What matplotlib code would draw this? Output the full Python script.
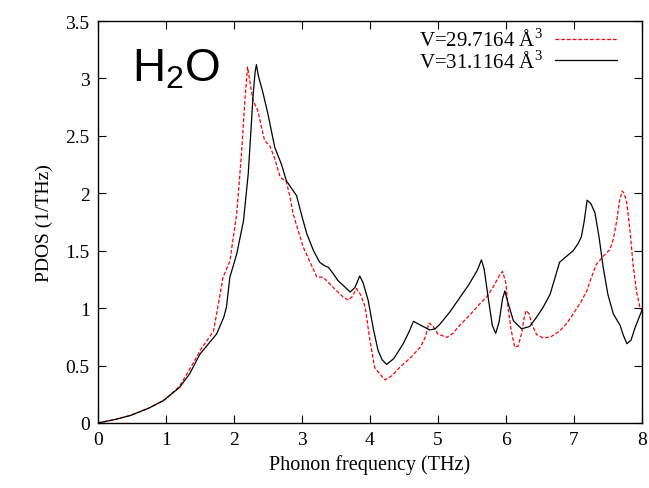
import matplotlib.pyplot as plt

plt.rcParams['font.family'] = ['Liberation Serif', 'DejaVu Serif']
plt.rcParams['mathtext.fontset'] = 'custom'
plt.rcParams['mathtext.rm'] = 'Liberation Serif'

# V = 29.7164 A^3 (red dashed)
freq_a = [0.0, 0.25, 0.5, 0.75, 1.0, 1.2, 1.4, 1.5, 1.7, 1.84, 1.94, 2.04, 2.11, 2.16, 2.20,
          2.24, 2.28, 2.35, 2.45, 2.53, 2.60, 2.68, 2.77, 2.82, 2.87, 3.02, 3.12, 3.22, 3.31,
          3.46, 3.60, 3.68, 3.74, 3.80, 3.86, 3.93, 4.0, 4.07, 4.22, 4.32, 4.44, 4.60, 4.74,
          4.81, 4.87, 4.93, 5.00, 5.13, 5.22, 5.32, 5.47, 5.62, 5.72, 5.81, 5.90, 5.95, 6.00,
          6.03, 6.08, 6.13, 6.18, 6.23, 6.27, 6.30, 6.34, 6.38, 6.45, 6.55, 6.66, 6.79, 6.90,
          6.99, 7.10, 7.19, 7.26, 7.33, 7.43, 7.53, 7.58, 7.63, 7.67, 7.71, 7.74, 7.78, 7.83,
          7.87, 7.92, 7.97, 8.0]
pdos_a = [0.0, 0.03, 0.07, 0.13, 0.21, 0.32, 0.52, 0.63, 0.80, 1.27, 1.41, 1.82, 2.34, 2.80, 3.10,
          2.95, 2.81, 2.72, 2.46, 2.41, 2.30, 2.14, 2.10, 1.98, 1.82, 1.53, 1.40, 1.27, 1.27,
          1.18, 1.10, 1.07, 1.10, 1.17, 1.12, 1.01, 0.72, 0.48, 0.375, 0.41, 0.485, 0.57, 0.66,
          0.74, 0.87, 0.84, 0.775, 0.745, 0.78, 0.85, 0.94, 1.04, 1.10, 1.18, 1.28, 1.32, 1.22,
          1.01, 0.80, 0.66, 0.67, 0.775, 0.92, 0.98, 0.95, 0.86, 0.77, 0.74, 0.75, 0.80, 0.87,
          0.95, 1.05, 1.15, 1.27, 1.38, 1.45, 1.51, 1.60, 1.76, 1.93, 2.02, 2.00, 1.91, 1.65,
          1.38, 1.15, 1.01, 0.98]

# V = 31.1164 A^3 (black solid)
freq_b = [0.0, 0.25, 0.47, 0.75, 0.96, 1.2, 1.35, 1.5, 1.745, 1.85, 1.89, 1.94, 2.04, 2.14,
          2.21, 2.25, 2.28, 2.31, 2.33, 2.36, 2.42, 2.50, 2.60, 2.70, 2.77, 2.85, 2.92, 3.00,
          3.07, 3.17, 3.26, 3.33, 3.39, 3.46, 3.53, 3.62, 3.71, 3.78, 3.85, 3.90, 3.975, 4.05,
          4.12, 4.18, 4.245, 4.35, 4.49, 4.58, 4.64, 4.75, 4.88, 4.96, 5.03, 5.18, 5.32, 5.45,
          5.52, 5.58, 5.64, 5.68, 5.74, 5.80, 5.85, 5.90, 5.95, 5.985, 6.03, 6.11, 6.23, 6.35,
          6.45, 6.55, 6.65, 6.72, 6.79, 6.85, 6.99, 7.06, 7.11, 7.15, 7.195, 7.25, 7.31, 7.37,
          7.43, 7.50, 7.58, 7.68, 7.73, 7.78, 7.84, 7.90, 8.0]
pdos_b = [0.0, 0.03, 0.064, 0.13, 0.194, 0.31, 0.43, 0.60, 0.775, 0.92, 1.01, 1.27, 1.47, 1.76,
          2.17, 2.55, 2.84, 3.05, 3.12, 3.02, 2.89, 2.69, 2.40, 2.25, 2.11, 2.04, 1.98, 1.80,
          1.65, 1.50, 1.40, 1.37, 1.355, 1.30, 1.24, 1.19, 1.14, 1.18, 1.28, 1.22, 1.065, 0.82,
          0.63, 0.55, 0.51, 0.56, 0.69, 0.80, 0.885, 0.85, 0.81, 0.82, 0.86, 0.97, 1.09, 1.20,
          1.27, 1.33, 1.42, 1.34, 1.09, 0.85, 0.78, 0.88, 1.08, 1.15, 1.05, 0.89, 0.82, 0.84,
          0.92, 1.01, 1.12, 1.26, 1.40, 1.43, 1.50, 1.56, 1.62, 1.75, 1.94, 1.91, 1.83, 1.62,
          1.36, 1.12, 0.95, 0.85, 0.76, 0.69, 0.72, 0.83, 0.98]

label_a = 'V=29.7164 Å$^3$'
label_b = 'V=31.1164 Å$^3$'

fig = plt.figure(figsize=(6.49, 4.89), dpi=100)
ax = fig.add_axes([0.151, 0.133, 0.838, 0.822])

ax.plot(freq_a, pdos_a, color='red', lw=0.9, dashes=(3, 1.6), label=label_a)
ax.plot(freq_b, pdos_b, color='black', lw=0.9, label=label_b)

ax.set_xlim(0, 8)
ax.set_ylim(0, 3.5)
ax.set_xticks(range(0, 9))
ax.set_yticks([0, 0.5, 1, 1.5, 2, 2.5, 3, 3.5])
ax.set_yticklabels(['0', '0.5', '1', '1.5', '2', '2.5', '3', '3.5'])
ax.tick_params(direction='in', top=True, right=True, length=6, width=0.8,
               labelsize=14, pad=6)
for s in ax.spines.values():
    s.set_linewidth(1.0)

ax.set_xlabel('Phonon frequency (THz)', fontsize=14.5, labelpad=4)
ax.set_ylabel('PDOS (1/THz)', fontsize=14, labelpad=9)

ax.text(0.0625, 0.851, 'H$_\\mathregular{2}$O', transform=ax.transAxes, fontsize=33,
        family='Liberation Sans', va='baseline', ha='left')

ax.legend(loc='upper right', frameon=False, markerfirst=False, fontsize=15,
          handlelength=2.95, handletextpad=0.6, labelspacing=-0.05,
          borderpad=0, borderaxespad=0, bbox_to_anchor=(0.954, 0.982))

fig.savefig('out.png', dpi=100)
